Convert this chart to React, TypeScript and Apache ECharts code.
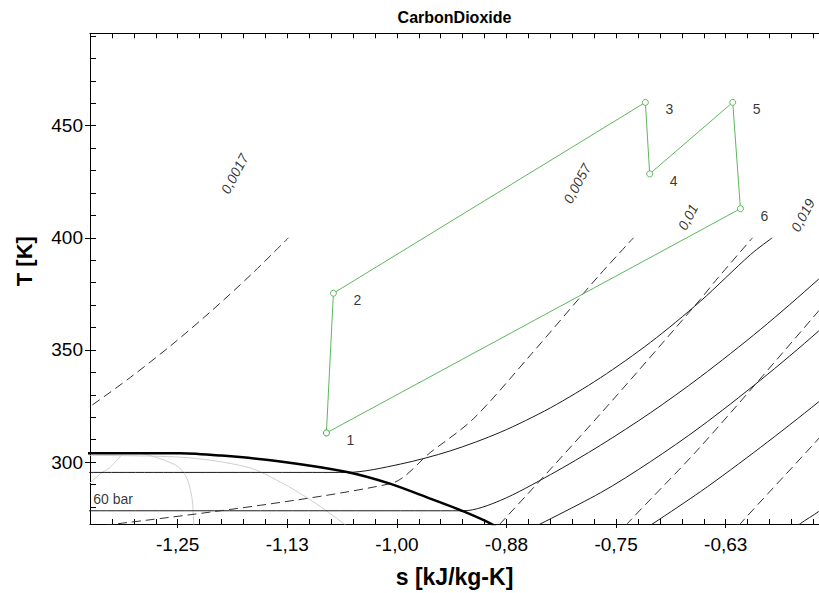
import React, { useEffect, useRef } from 'react';
import * as echarts from 'echarts';

// ---- axes ----
const sRange = [-1.35, -0.5186];
const TRange = [272.4, 491.2];
const xMajorTicks = [-1.25, -1.125, -1.0, -0.875, -0.75, -0.625];
const xTickLabels = ['-1,25', '-1,13', '-1,00', '-0,88', '-0,75', '-0,63'];
const xMinorTicks = [-1.325, -1.3, -1.275, -1.25, -1.225, -1.2, -1.175, -1.15, -1.125, -1.1, -1.075, -1.05, -1.025, -1.0, -0.975, -0.95, -0.925, -0.9, -0.875, -0.85, -0.825, -0.8, -0.775, -0.75, -0.725, -0.7, -0.675, -0.65, -0.625, -0.6, -0.575, -0.55, -0.525];
const yMajorTicks = [300, 350, 400, 450];
const yMinorTicks = [280, 290, 300, 310, 320, 330, 340, 350, 360, 370, 380, 390, 400, 410, 420, 430, 440, 450, 460, 470, 480, 490];

// ---- saturation line (vapour side) ----
const domeS = [-1.36, -1.3, -1.247, -1.2, -1.133, -1.057, -1.008, -0.962, -0.924, -0.893, -0.885];
const domeT = [304.0, 304.0, 304.0, 302.9, 300.3, 295.6, 290.4, 283.7, 278.0, 272.6, 270.5];

// ---- isobars ----
const isoA_S = [-1.36, -1.0568, -0.9962, -0.9392, -0.882, -0.8249, -0.7679, -0.7108, -0.6539, -0.5968, -0.572];
const isoA_T = [295.4, 295.4, 299.1, 305.0, 313.3, 324.2, 337.6, 353.4, 371.7, 392.5, 400];
const isoB_S = [-1.36, -0.9238, -0.882, -0.8249, -0.7679, -0.7108, -0.6539, -0.5855, -0.5192, -0.4829];
const isoB_T = [278.3, 278.3, 282.9, 294.4, 307.5, 322.0, 338.0, 359.1, 381.5, 394.8];
const isoC_S = [-0.8591, -0.7679, -0.7108, -0.6539, -0.5855, -0.5192, -0.4713];
const isoC_T = [268.0, 286.3, 300.2, 315.7, 336.5, 358.4, 376.4];
const isoE_S = [-0.745, -0.6539, -0.5855, -0.5192, -0.4713];
const isoE_T = [263.0, 286.8, 306.5, 326.8, 342.6];
const isoG_S = [-0.5649, -0.5398, -0.5192, -0.4713];
const isoG_T = [265.0, 272.6, 277.9, 292.0];

// ---- isochores (dashed) ----
const v0017_S = [-1.361, -1.3488, -1.3039, -1.2583, -1.2127, -1.1671, -1.1237];
const v0017_T = [322.4, 325.1, 337.8, 351.8, 367.0, 383.3, 400];
const v0057_S = [-1.3496, -1.0074, -0.9618, -0.9128, -0.8477, -0.7713, -0.7302];
const v0057_T = [271.1, 290.4, 304.3, 319.3, 347.7, 382.4, 400];
const v01_S = [-0.895, -0.882, -0.7679, -0.6539, -0.6333, -0.5945];
const v01_T = [268.0, 272.6, 321.5, 372.6, 382.4, 400];
const v019_S = [-0.7485, -0.7371, -0.6539, -0.5192, -0.4487];
const v019_T = [267.0, 272.6, 306.8, 367.3, 400];
const v03_S = [-0.62, -0.6082, -0.5192, -0.4713];
const v03_T = [267.0, 272.6, 310.4, 331.7];

// ---- quality lines (grey) ----
const q1_S = [-1.361, -1.3485, -1.3382, -1.3267, -1.313];
const q1_T = [287.3, 291.2, 294.8, 297.8, 303.7];
const q2_S = [-1.2925, -1.2697, -1.2489, -1.2393, -1.2336, -1.2318, -1.2315];
const q2_T = [304.0, 301.5, 297.8, 292.6, 283.7, 273.3, 270.0];
const q3_S = [-1.36, -1.2469, -1.1708, -1.1329, -1.0952, -1.0607, -1.055];
const q3_T = [303.0, 302.2, 297.8, 291.1, 282.3, 272.6, 271.0];

// ---- cycle ----
const cycleS = [-1.0804, -1.0724, -0.7166, -0.7117, -0.617, -0.6082];
const cycleT = [313.0, 375.3, 460.4, 428.5, 460.4, 413.0];
const cycleLabels = ['1', '2', '3', '4', '5', '6'];

// ---- annotations ----
const vLabelS = [-1.1851, -0.7945, -0.6681, -0.537];
const vLabelT = [428.6, 424.2, 409.3, 410.1];
const vLabelText = ['0,0017', '0,0057', '0,01', '0,019'];
const pLabelS = [-1.3462];
const pLabelT = [283.7];
const pLabelText = ['60 bar'];

const FONT = 'Liberation Sans, Arial, sans-serif';

const zip = (a: number[], b: number[]) => a.map((v, i) => [v, b[i]]);

function lineSeries(name: string, s: number[], t: number[], color: string, width: number, type: any) {
  return {
    name,
    type: 'line',
    data: zip(s, t),
    showSymbol: false,
    smooth: 0.3,
    silent: true,
    lineStyle: { color, width, type },
    z: 2,
  };
}

export default function App() {
  const ref = useRef<HTMLDivElement>(null);
  useEffect(() => {
    if (!ref.current) return;
    const chart = echarts.init(ref.current, undefined, { renderer: 'svg' });
    const dash = [9, 5];
    const option: any = {
      animation: false,
      backgroundColor: '#fff',
      title: {
        text: 'CarbonDioxide',
        left: 454.5,
        textAlign: 'center',
        top: 9,
        padding: 0,
        textStyle: { fontFamily: FONT, fontSize: 16, fontWeight: 'bold', color: '#000' },
      },
      grid: { left: 90, right: 0, top: 33.3, bottom: 67.7, containLabel: false },
      xAxis: [
        {
          type: 'value',
          position: 'bottom',
          min: sRange[0],
          max: sRange[1],
          name: 's [kJ/kg-K]',
          nameLocation: 'middle',
          nameGap: 41,
          nameTextStyle: { fontFamily: FONT, fontSize: 23, fontWeight: 'bold', color: '#000' },
          axisLine: { show: true, onZero: false, lineStyle: { color: '#000', width: 1 } },
          axisTick: { show: true, inside: true, length: 5, customValues: xMinorTicks, lineStyle: { color: '#000' } },
          axisLabel: {
            customValues: xMajorTicks,
            margin: 11,
            fontFamily: FONT,
            fontSize: 19,
            color: '#000',
            formatter: (v: number) => {
              const i = xMajorTicks.findIndex((m) => Math.abs(m - v) < 1e-9);
              return i >= 0 ? xTickLabels[i] : '';
            },
          },
          splitLine: { show: false },
        },
        {
          type: 'value',
          position: 'top',
          min: sRange[0],
          max: sRange[1],
          axisLine: { show: true, onZero: false, lineStyle: { color: '#000', width: 1 } },
          axisTick: { show: true, inside: true, length: 5, customValues: xMinorTicks, lineStyle: { color: '#000' } },
          axisLabel: { show: false },
          splitLine: { show: false },
        },
        {
          type: 'value',
          position: 'bottom',
          min: sRange[0],
          max: sRange[1],
          axisLine: { show: false, onZero: false },
          axisTick: { show: true, inside: false, length: 4, customValues: xMajorTicks, lineStyle: { color: '#000' } },
          axisLabel: { show: false },
          splitLine: { show: false },
        },
      ],
      yAxis: [
        {
          type: 'value',
          position: 'left',
          min: TRange[0],
          max: TRange[1],
          name: 'T [K]',
          nameLocation: 'middle',
          nameGap: 55,
          nameTextStyle: { fontFamily: FONT, fontSize: 22, fontWeight: 'bold', color: '#000', padding: [0, 0, 0, 35] },
          axisLine: { show: true, onZero: false, lineStyle: { color: '#000', width: 1 } },
          axisTick: { show: true, inside: true, length: 6, customValues: yMinorTicks, lineStyle: { color: '#000' } },
          axisLabel: {
            customValues: yMajorTicks,
            margin: 7,
            fontFamily: FONT,
            fontSize: 19,
            color: '#000',
            formatter: (v: number) => String(v),
          },
          splitLine: { show: false },
        },
        {
          type: 'value',
          position: 'left',
          min: TRange[0],
          max: TRange[1],
          axisLine: { show: false, onZero: false },
          axisTick: { show: true, inside: false, length: 5, customValues: yMajorTicks, lineStyle: { color: '#000' } },
          axisLabel: { show: false },
          splitLine: { show: false },
        },
      ],
      series: [
        lineSeries('q1', q1_S, q1_T, '#cfcfcf', 1, 'solid'),
        lineSeries('q2', q2_S, q2_T, '#cfcfcf', 1, 'solid'),
        lineSeries('q3', q3_S, q3_T, '#cfcfcf', 1, 'solid'),
        lineSeries('pA', isoA_S, isoA_T, '#1a1a1a', 1, 'solid'),
        lineSeries('pB', isoB_S, isoB_T, '#1a1a1a', 1, 'solid'),
        lineSeries('pC', isoC_S, isoC_T, '#1a1a1a', 1, 'solid'),
        lineSeries('pE', isoE_S, isoE_T, '#1a1a1a', 1, 'solid'),
        lineSeries('pG', isoG_S, isoG_T, '#1a1a1a', 1, 'solid'),
        lineSeries('v0017', v0017_S, v0017_T, '#333', 1, dash),
        lineSeries('v0057', v0057_S, v0057_T, '#333', 1, dash),
        lineSeries('v01', v01_S, v01_T, '#333', 1, dash),
        lineSeries('v019', v019_S, v019_T, '#333', 1, dash),
        lineSeries('v03', v03_S, v03_T, '#333', 1, dash),
        { ...lineSeries('dome', domeS, domeT, '#000', 2.5, 'solid'), z: 3 },
        {
          name: 'cycle',
          type: 'line',
          data: zip([...cycleS, cycleS[0]], [...cycleT, cycleT[0]]),
          symbol: 'circle',
          symbolSize: 6,
          showSymbol: true,
          lineStyle: { color: '#5cb85c', width: 1 },
          itemStyle: { color: '#fff', borderColor: '#5cb85c', borderWidth: 1 },
          z: 5,
        },
        {
          name: 'cycleLabels',
          type: 'scatter',
          data: cycleS.map((s, i) => ({ value: [s, cycleT[i]], name: cycleLabels[i] })),
          symbolSize: 0,
          silent: true,
          label: {
            show: true,
            position: 'inside',
            offset: [24, 7],
            formatter: (p: any) => p.name,
            fontFamily: FONT,
            fontSize: 14,
            color: '#000',
          },
          z: 6,
        },
        {
          name: 'vLabels',
          type: 'scatter',
          data: vLabelS.map((s, i) => ({ value: [s, vLabelT[i]], name: vLabelText[i] })),
          symbolSize: 0,
          silent: true,
          label: {
            show: true,
            position: 'inside',
            rotate: 62,
            formatter: (p: any) => p.name,
            fontFamily: FONT,
            fontSize: 14,
            fontStyle: 'italic',
            color: '#000',
          },
          z: 6,
        },
        {
          name: 'pLabels',
          type: 'scatter',
          data: pLabelS.map((s, i) => ({ value: [s, pLabelT[i]], name: pLabelText[i] })),
          symbolSize: 0,
          silent: true,
          label: {
            show: true,
            position: 'right',
            distance: 0,
            formatter: (p: any) => p.name,
            fontFamily: FONT,
            fontSize: 14,
            color: '#000',
          },
          z: 6,
        },
      ],
    };
    chart.setOption(option);
    return () => chart.dispose();
  }, []);
  return (
    <div
      ref={ref}
      style={{ position: 'absolute', left: 0, top: 0, width: 819, height: 593, overflow: 'hidden' }}
    />
  );
}
